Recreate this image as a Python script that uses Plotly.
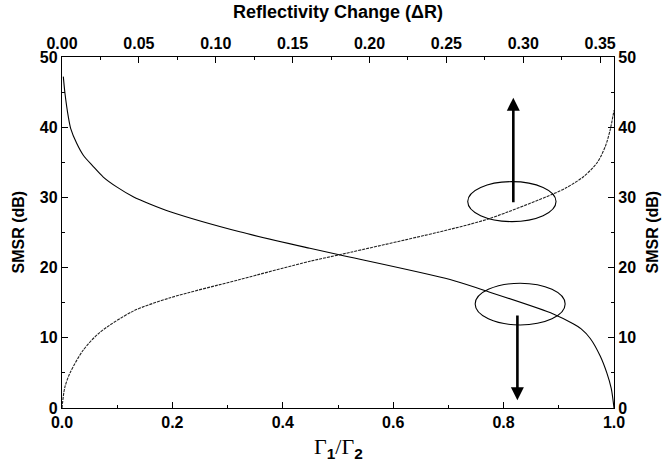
import plotly.graph_objects as go

# Decreasing curve
dec_x = [0.0024, 0.0054, 0.0114, 0.0158, 0.0266, 0.0386, 0.0567, 0.0748, 0.099, 0.129,
         0.159, 0.196, 0.322, 0.449, 0.504, 0.703, 0.763, 0.89, 0.926, 0.94, 0.957,
         0.975, 0.987, 0.995, 1.0]
dec_y = [47.2, 44.8, 41.5, 39.8, 37.7, 36.0, 34.4, 32.9, 31.5, 30.1,
         29.06, 27.96, 25.1, 22.75, 21.8, 18.3, 16.8, 13.4, 12.0, 11.3, 9.9,
         7.4, 5.0, 2.8, 0.0]

# Increasing curve
inc_x = [0.0, 0.005, 0.0145, 0.039, 0.069, 0.129, 0.196, 0.322, 0.449, 0.504,
         0.703, 0.775, 0.89, 0.914, 0.944, 0.969, 0.984, 0.993, 1.0]
inc_y = [0.0, 2.9, 5.0, 8.3, 10.8, 13.8, 15.7, 18.3, 20.9, 21.85,
         25.45, 27.0, 30.5, 31.4, 32.9, 34.9, 37.2, 39.6, 42.4]

FONT = "Liberation Sans"

fig = go.Figure()
fig.add_trace(go.Scatter(x=dec_x, y=dec_y, mode="lines",
                         line=dict(color="black", width=1.1, shape="spline", smoothing=0.8),
                         showlegend=False, hoverinfo="skip"))
fig.add_trace(go.Scatter(x=inc_x, y=inc_y, mode="lines",
                         line=dict(color="#222", width=1.1, dash="3px,1px", shape="spline", smoothing=0.8),
                         showlegend=False, hoverinfo="skip"))
# invisible trace to activate top/right axes
fig.add_trace(go.Scatter(x=[0], y=[0], xaxis="x2", yaxis="y2", mode="lines",
                         line=dict(width=0), showlegend=False, hoverinfo="skip"))

tickfont = dict(family=FONT, size=16, color="black", weight="bold")
axcommon = dict(showline=True, linecolor="black", linewidth=1.3, ticks="inside",
                ticklen=6, tickwidth=1.3, tickcolor="black", showgrid=False,
                zeroline=False, tickfont=tickfont)
minor_common = dict(ticks="inside", ticklen=3, tickwidth=1.2, tickcolor="black")

fig.update_layout(
    width=667, height=466,
    margin=dict(l=62, r=53, t=57, b=58),
    plot_bgcolor="white", paper_bgcolor="white",
    xaxis=dict(range=[0, 1], dtick=0.2, tickformat=".1f",
               minor=dict(dtick=0.1, **minor_common), **axcommon),
    xaxis2=dict(range=[0, 0.359], dtick=0.05, tickformat=".2f", overlaying="x", side="top",
                minor=dict(dtick=0.025, **minor_common), **axcommon),
    yaxis=dict(range=[0, 50], dtick=10, minor=dict(dtick=5, **minor_common), **axcommon),
    yaxis2=dict(range=[0, 50], dtick=10, overlaying="y", side="right",
                minor=dict(dtick=5, **minor_common), **axcommon),
)

# Ellipses (center x, center y, radius x, radius y)
ellipses = [(0.815, 29.4, 0.08, 2.85), (0.83, 14.8, 0.0815, 2.97)]
for cx, cy, rx, ry in ellipses:
    fig.add_shape(type="circle", xref="x", yref="y", x0=cx - rx, x1=cx + rx,
                  y0=cy - ry, y1=cy + ry, line=dict(color="black", width=1.1))

# Arrows: (x, y_start, y_end)
arrows = [(0.8176, 29.1, 44.2), (0.825, 13.4, 1.1)]
for x, y0, y1 in arrows:
    fig.add_annotation(x=x, y=y1, ax=x, ay=y0, xref="x", yref="y", axref="x", ayref="y",
                       showarrow=True, arrowhead=2, arrowsize=1.0, arrowwidth=2.6,
                       arrowcolor="black", text="")

# Titles
fig.add_annotation(text="Reflectivity Change (ΔR)", xref="paper", yref="paper", x=0.5, y=1,
                   yanchor="middle", yshift=45, showarrow=False,
                   font=dict(family=FONT, size=18, color="black", weight="bold"))
fig.add_annotation(text='Γ<sub><span style="font-family:Liberation Sans;font-weight:bold">1</span></sub>/Γ<sub><span style="font-family:Liberation Sans;font-weight:bold">2</span></sub>',
                   xref="paper", yref="paper", x=0.5, y=0,
                   yanchor="middle", yshift=-40, showarrow=False,
                   font=dict(family="Liberation Serif", size=22, color="black"))
fig.add_annotation(text="SMSR (dB)", xref="paper", yref="paper", x=0, y=0.5,
                   xanchor="center", yanchor="middle", xshift=-44, textangle=-90, showarrow=False,
                   font=dict(family=FONT, size=16, color="black", weight="bold"))
fig.add_annotation(text="SMSR (dB)", xref="paper", yref="paper", x=1, y=0.5,
                   xanchor="center", yanchor="middle", xshift=38, textangle=-90, showarrow=False,
                   font=dict(family=FONT, size=16, color="black", weight="bold"))

fig.write_html("out.html", config={"displayModeBar": False},
               post_script="document.body.style.margin='0';document.body.style.overflow='hidden';")
